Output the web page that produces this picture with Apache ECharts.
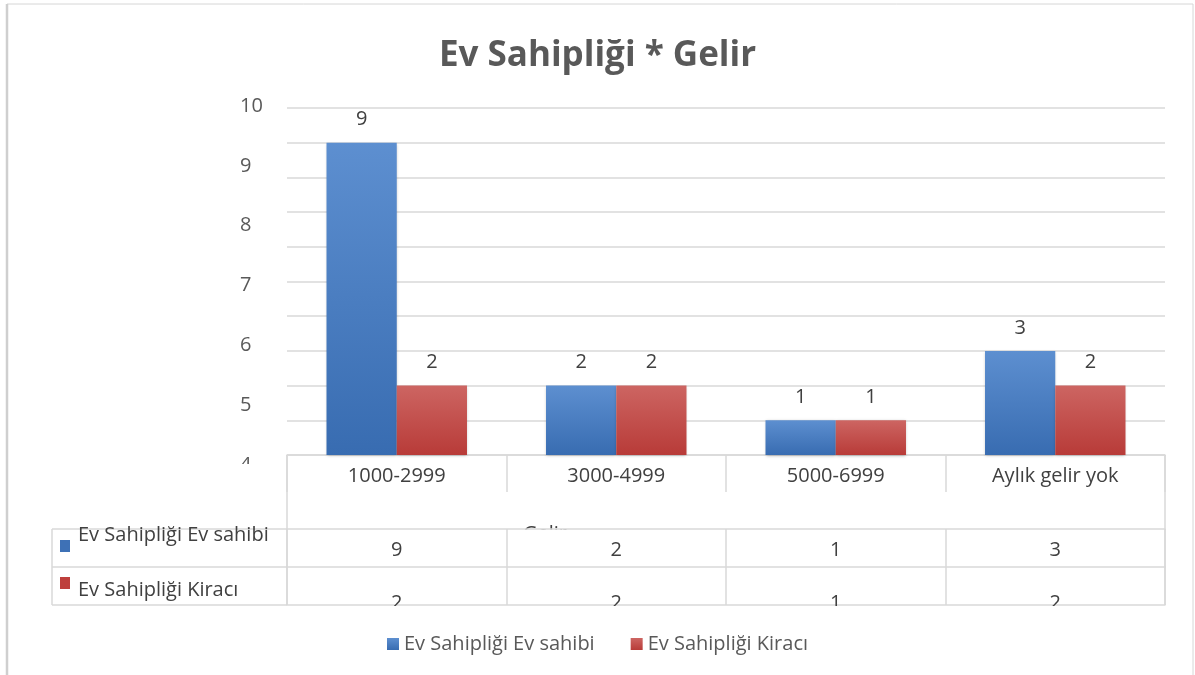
<!DOCTYPE html>
<html>
<head>
<meta charset="utf-8">
<script src="https://cdn.jsdelivr.net/npm/echarts@6/dist/echarts.min.js"></script>
<style>
  html, body { margin: 0; padding: 0; background: #fff; }
  #chart { width: 1195px; height: 675px; }
</style>
</head>
<body>
<div id="chart"></div>
<script>
const categories = ['1000-2999', '3000-4999', '5000-6999', 'Aylık gelir yok'];
const ownerValues = [9, 2, 1, 3];
const renterValues = [2, 2, 1, 2];
const seriesNames = ['Ev Sahipliği Ev sahibi', 'Ev Sahipliği Kiracı'];
// the y tick labels as they appear (offset from the gridlines in the source)
const tickLabels = [4, 5, 6, 7, 8, 9, 10];

const FONT = 'Open Sans';
const TXT = '#404040';
const LINE = '#d9d9d9';
const FS = 20;
const L = 287, R = 1165, AXIS_Y = 455;

const chart = echarts.init(document.getElementById('chart'));

const blue = new echarts.graphic.LinearGradient(0, 0, 0, 1, [
  { offset: 0, color: '#5d8fd0' }, { offset: 1, color: '#386cb1' }
]);
const red = new echarts.graphic.LinearGradient(0, 0, 0, 1, [
  { offset: 0, color: '#cd6562' }, { offset: 1, color: '#b83b38' }
]);

function hLine(x1, x2, y) {
  return { type: 'line', z: 5, shape: { x1, y1: y, x2, y2: y }, style: { stroke: LINE, lineWidth: 1.5 } };
}
function vLine(x, y1, y2) {
  return { type: 'line', z: 5, shape: { x1: x, y1, x2: x, y2 }, style: { stroke: LINE, lineWidth: 1.5 } };
}

const option = {
  animation: false,
  textStyle: { fontFamily: FONT },
  title: {
    text: 'Ev Sahipliği * Gelir',
    left: 'center',
    top: 34,
    textStyle: { fontSize: 35, fontWeight: 'bold', color: '#595959', fontFamily: FONT }
  },
  legend: {
    data: seriesNames,
    bottom: 16,
    left: 'center',
    icon: 'rect',
    itemWidth: 12,
    itemHeight: 12,
    itemGap: 36,
    textStyle: { fontSize: FS, color: '#595959', fontFamily: FONT }
  },
  grid: [
    { left: L, right: 1195 - R, top: 108, bottom: 675 - AXIS_Y },
    { left: L, right: 1195 - R, top: 106, bottom: 210 }
  ],
  xAxis: [
    {
      type: 'category', gridIndex: 0, data: categories,
      axisLine: { lineStyle: { color: LINE, width: 1.5 } },
      axisTick: { show: true, interval: 0, length: 37, lineStyle: { color: LINE, width: 1.5 } },
      axisLabel: { margin: 11, fontSize: FS, color: TXT, interval: 0 }
    },
    {
      type: 'category', gridIndex: 0, data: categories, position: 'bottom', offset: 74,
      axisLine: { lineStyle: { color: LINE, width: 1.5 } },
      axisTick: { show: true, interval: 0, length: 38, lineStyle: { color: LINE, width: 1.5 } },
      axisLabel: { margin: 11, fontSize: FS, color: TXT, interval: 0, formatter: (v, i) => String(ownerValues[i]) }
    },
    {
      type: 'category', gridIndex: 0, data: categories, position: 'bottom', offset: 112,
      axisLine: { lineStyle: { color: LINE, width: 1.5 } },
      axisTick: { show: true, interval: 0, length: 38, lineStyle: { color: LINE, width: 1.5 } },
      axisLabel: { margin: 26, fontSize: FS, color: TXT, interval: 0, formatter: (v, i) => String(renterValues[i]) }
    },
    {
      type: 'category', gridIndex: 0, data: categories, position: 'bottom', offset: 150,
      axisLine: { lineStyle: { color: LINE, width: 1.5 } },
      axisTick: { show: false }, axisLabel: { show: false }
    },
    { type: 'value', gridIndex: 1, show: false }
  ],
  yAxis: [
    {
      type: 'value', gridIndex: 0, min: 0, max: 10, interval: 1,
      axisLine: { show: false }, axisTick: { show: false }, axisLabel: { show: false },
      splitLine: { lineStyle: { color: LINE, width: 1.5 } }
    },
    {
      type: 'value', gridIndex: 1, min: tickLabels[0], max: tickLabels[tickLabels.length - 1], interval: 1,
      axisLine: { show: false }, axisTick: { show: false }, splitLine: { show: false },
      axisLabel: { margin: 47, align: 'left', fontSize: FS, color: '#595959' }
    }
  ],
  series: [
    {
      name: seriesNames[0], type: 'bar', xAxisIndex: 0, yAxisIndex: 0,
      data: ownerValues, barGap: '0%', barCategoryGap: '36%',
      itemStyle: { color: blue, shadowBlur: 3, shadowColor: 'rgba(0,0,0,0.25)', shadowOffsetY: 1 },
      label: { show: true, position: 'top', distance: 13, fontSize: FS, color: TXT }
    },
    {
      name: seriesNames[1], type: 'bar', xAxisIndex: 0, yAxisIndex: 0,
      data: renterValues, barGap: '0%', barCategoryGap: '36%',
      itemStyle: { color: red, shadowBlur: 3, shadowColor: 'rgba(0,0,0,0.25)', shadowOffsetY: 1 },
      label: { show: true, position: 'top', distance: 13, fontSize: FS, color: TXT }
    }
  ],
  graphic: [
    // outer frame
    { type: 'rect', z: 5, shape: { x: 7, y: 4, width: 1186, height: 690 }, style: { fill: 'none', stroke: '#d6d6d6', lineWidth: 1 } },
    { type: 'line', z: 5, shape: { x1: 7, y1: 4, x2: 7, y2: 675 }, style: { stroke: '#cfcfcf', lineWidth: 2.5 } },
    // axis title hidden behind the table rows
    { type: 'text', z: -2, x: 545, y: 524, style: { text: 'Gelir', fontSize: FS, fill: TXT, fontFamily: FONT, align: 'center', verticalAlign: 'top' } },
    { type: 'rect', z: -1, shape: { x: L, y: 529.5, width: R - L, height: 76 }, style: { fill: '#fff' } },
    // table frame pieces outside the plot area
    vLine(L, AXIS_Y, 605), vLine(R, AXIS_Y, 605), vLine(52, 529, 605),
    hLine(52, L, 529), hLine(52, L, 567), hLine(52, L, 605),
    // legend keys in the table
    { type: 'rect', z: 6, shape: { x: 60, y: 540, width: 10, height: 12 }, style: { fill: '#3e71b6' } },
    { type: 'rect', z: 6, shape: { x: 60, y: 577, width: 10, height: 12 }, style: { fill: '#be3f3c' } },
    { type: 'text', z: 6, x: 78, y: 535, style: { text: seriesNames[0], fontSize: FS, fill: TXT, fontFamily: FONT, verticalAlign: 'middle' } },
    { type: 'text', z: 6, x: 78, y: 590, style: { text: seriesNames[1], fontSize: FS, fill: TXT, fontFamily: FONT, verticalAlign: 'middle' } },
    // clipped text in the source
    { type: 'rect', z: 100, shape: { x: L + 1, y: 606, width: R - L - 2, height: 20 }, style: { fill: '#fff' } },
    { type: 'rect', z: 100, shape: { x: 225, y: 464, width: 55, height: 18 }, style: { fill: '#fff' } }
  ]
};

chart.setOption(option);
window.addEventListener('resize', function () {
  chart.resize();
});
</script>
</body>
</html>
